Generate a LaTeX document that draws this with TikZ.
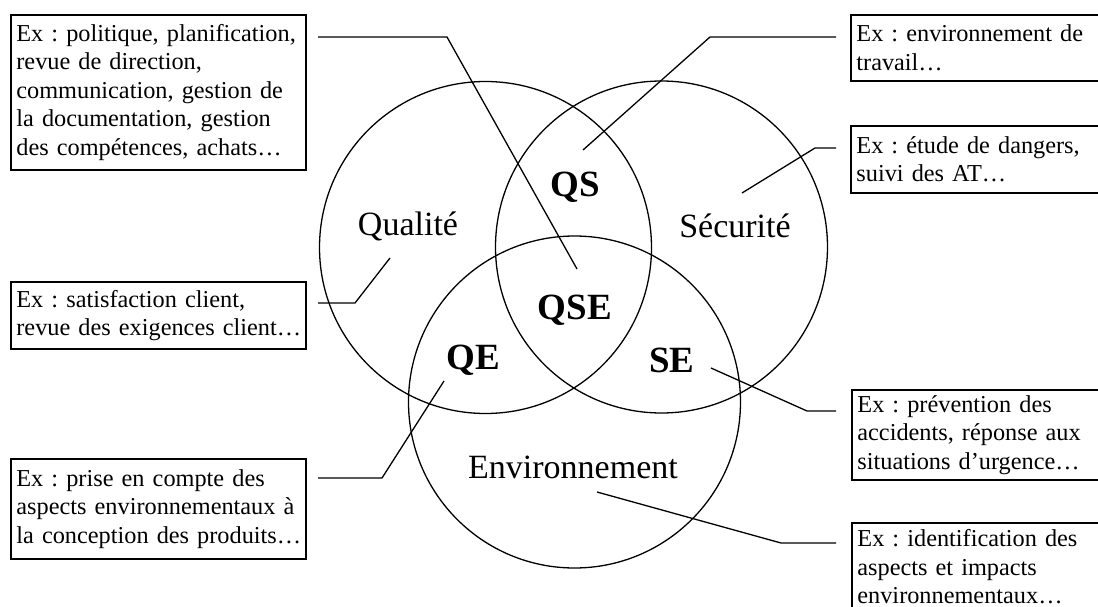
\documentclass[tikz,border=0pt]{standalone}
\usepackage{fontspec}
\setmainfont{Liberation Serif}
\begin{document}
\frenchspacing
\hyphenpenalty=10000
\exhyphenpenalty=10000
\begin{tikzpicture}[x=1pt,y=-1pt,
  exbox/.style={draw, line width=1.8pt, anchor=north west, align=left, inner xsep=5.5pt, inner ysep=3pt, font=\fontsize{24.3}{28.5}\selectfont\frenchspacing},
  lbox/.style={exbox, text width=284pt},
  rbox/.style={exbox, text width=270pt},
  lbl/.style={font=\fontsize{34}{40}\selectfont},
  blbl/.style={font=\fontsize{37}{44}\selectfont\bfseries},
  venn/.style={circle, draw, line width=1.3pt, minimum size=332pt, inner sep=0pt},
  conn/.style={line width=1.3pt}]
\useasboundingbox[fill=white] (0,0) rectangle (1098,607);

% circles
\node[venn] (cQ) at (485.5,247.5) {};
\node[venn] (cS) at (661.5,247) {};
\node[venn] (cE) at (574.5,402) {};

% labels
\node[lbl] (tQ) at (408,226) {Qualité};
\node[lbl] (tS) at (735,226) {Sécurité};
\node[lbl] (tE) at (573,467) {Environnement};
\node[blbl] (tQS) at (575,187) {QS};
\node[blbl] (tQSE) at (575,310) {QSE};
\node[blbl] (tQE) at (473,360) {QE};
\node[blbl] (tSE) at (672,360) {SE};

% boxes
\node[lbox, minimum height=155pt] (b1) at (10,14) {\mbox{Ex : politique, planification,}\\\mbox{revue de direction,}\\\mbox{communication, gestion de}\\\mbox{la documentation, gestion}\\\mbox{des compétences, achats…}};
\node[lbox, minimum height=67pt] (b4) at (10,281) {\mbox{Ex : satisfaction client,}\\\mbox{revue des exigences client…}};
\node[lbox, minimum height=100pt] (b5) at (10,458) {\mbox{Ex : prise en compte des}\\\mbox{aspects environnementaux à}\\\mbox{la conception des produits…}};
\node[rbox, minimum height=66pt] (b2) at (850,14) {Ex : environnement de\\travail…};
\node[rbox, minimum height=67pt] (b3) at (850,125) {Ex : étude de dangers,\\suivi des AT…};
\node[rbox, minimum height=90pt] (b6) at (851,389) {Ex : prévention des\\accidents, réponse aux\\situations d’urgence…};
\node[rbox, minimum height=88pt] (b7) at (851,522) {Ex : identification des\\aspects et impacts\\environnementaux…};

% connector points
\coordinate (p1a) at (318,37);  \coordinate (p1b) at (447,37);  \coordinate (p1c) at (577,269);
\coordinate (p2a) at (836,37);  \coordinate (p2b) at (710,37);  \coordinate (p2c) at (583,150);
\coordinate (p3a) at (836,148); \coordinate (p3b) at (815,148); \coordinate (p3c) at (742,193);
\coordinate (p4a) at (318,303); \coordinate (p4b) at (355,303); \coordinate (p4c) at (390,258);
\coordinate (p5a) at (318,478); \coordinate (p5b) at (382,478); \coordinate (p5c) at (444,381);
\coordinate (p6a) at (836,411); \coordinate (p6b) at (807,411); \coordinate (p6c) at (711,368);
\coordinate (p7a) at (836,543); \coordinate (p7b) at (781,543); \coordinate (p7c) at (597,492);

\draw[conn] (p1a) -- (p1b) -- (p1c);
\draw[conn] (p2a) -- (p2b) -- (p2c);
\draw[conn] (p3a) -- (p3b) -- (p3c);
\draw[conn] (p4a) -- (p4b) -- (p4c);
\draw[conn] (p5a) -- (p5b) -- (p5c);
\draw[conn] (p6a) -- (p6b) -- (p6c);
\draw[conn] (p7a) -- (p7b) -- (p7c);
\end{tikzpicture}
\end{document}
